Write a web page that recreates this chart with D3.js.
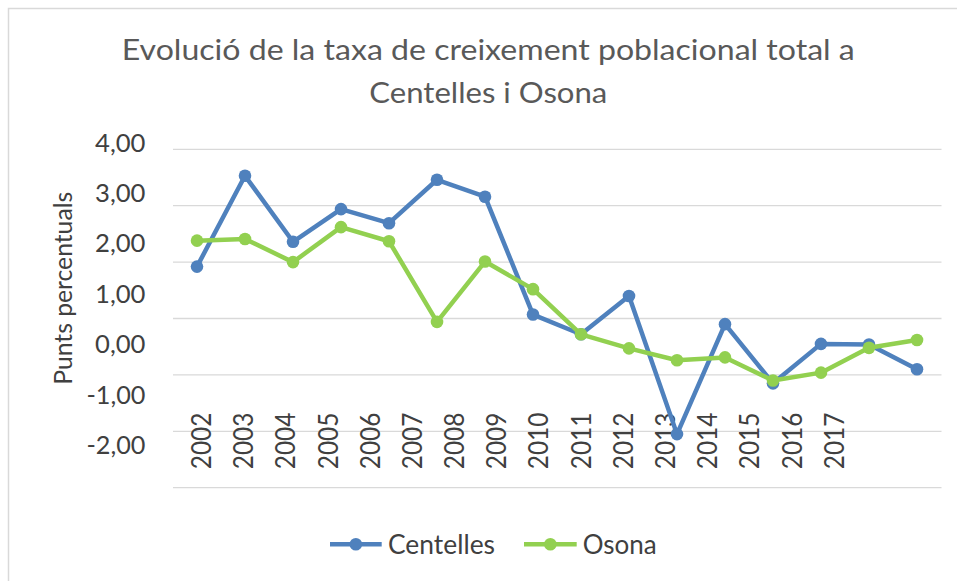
<!DOCTYPE html>
<html><head><meta charset="utf-8">
<script src="https://cdn.jsdelivr.net/npm/d3@7"></script>
<style>
html,body{margin:0;padding:0;background:#fff;}
svg{display:block;}
text{font-family:Lato,"Open Sans",sans-serif;}
</style></head>
<body>
<svg id="chart" width="957" height="581"></svg>
<script>
const years = ["2002","2003","2004","2005","2006","2007","2008","2009","2010","2011","2012","2013","2014","2015","2016","2017"];
const centelles = [1.92, 3.53, 2.36, 2.94, 2.69, 3.46, 3.16, 1.07, 0.72, 1.40, -1.05, 0.90, -0.15, 0.55, 0.54, 0.10];
const osona = [2.38, 2.41, 2.00, 2.62, 2.37, 0.94, 2.01, 1.52, 0.72, 0.47, 0.26, 0.31, -0.10, 0.04, 0.48, 0.62];
const yTicks = [4, 3, 2, 1, 0, -1, -2];
const seriesNames = ["Centelles", "Osona"];
const titleLines = ["Evolució de la taxa de creixement poblacional total a", "Centelles i Osona"];
const yTitle = "Punts percentuals";

const colors = {Centelles: "#4F81BD", Osona: "#92D050"};
const svg = d3.select("#chart");

// chart frame
svg.append("rect").attr("x", 8.5).attr("y", 8.5).attr("width", 1000).attr("height", 1000)
  .attr("fill", "#fff").attr("stroke", "#D9D9D9").attr("stroke-width", 1.5);

const x = d3.scalePoint().domain(years).range([173, 941]).padding(0.5);
const y = d3.scaleLinear().domain([-2, 4]).range([487.7, 149.3]);
// tick label placement scales (labels are offset from the grid in the original)
const xLab = d3.scalePoint().domain(years).range([201.7, 834.3]);
const yLab = d3.scaleLinear().domain([-2, 4]).range([445, 142.5]);
const locale = d3.formatLocale({decimal: ",", thousands: ".", grouping: [3], currency: ["", "€"], minus: "-"});
const fmt = locale.format(".2f");

// gridlines
svg.append("g").selectAll("line").data(yTicks).join("line")
  .attr("x1", 173).attr("x2", 941.5)
  .attr("y1", d => y(d)).attr("y2", d => y(d))
  .attr("stroke", "#D9D9D9").attr("stroke-width", 1.3);

// y tick labels
svg.append("g").selectAll("text").data(yTicks).join("text")
  .attr("x", 145.5).attr("y", d => yLab(d)).attr("dy", "0.36em")
  .attr("text-anchor", "end").attr("fill", "#404040").style("font-size", "25px")
  .attr("textLength", d => d < 0 ? 59 : 50.5).attr("lengthAdjust", "spacingAndGlyphs")
  .text(d => fmt(d));

// x tick labels (rotated)
svg.append("g").selectAll("text").data(years).join("text")
  .attr("transform", d => `translate(${xLab(d)},412.7) rotate(-90)`)
  .attr("dy", "0.36em").attr("text-anchor", "end")
  .attr("fill", "#404040").style("font-size", "26px")
  .attr("textLength", 56.5).attr("lengthAdjust", "spacingAndGlyphs")
  .text(d => d);

// y axis title
svg.append("text").attr("transform", "translate(62.5,288.3) rotate(-90)")
  .attr("dy", "0.36em").attr("text-anchor", "middle")
  .attr("fill", "#404040").style("font-size", "25px")
  .attr("textLength", 193).attr("lengthAdjust", "spacingAndGlyphs")
  .text(yTitle);

// title
const tWidths = [733, 238];
svg.append("g").selectAll("text").data(titleLines).join("text")
  .attr("x", 488.3).attr("y", (d, i) => 60 + i * 42.5)
  .attr("text-anchor", "middle").attr("fill", "#595959").style("font-size", "28px")
  .attr("textLength", (d, i) => tWidths[i]).attr("lengthAdjust", "spacingAndGlyphs")
  .text(d => d);

// series
const series = [{name: "Centelles", values: centelles}, {name: "Osona", values: osona}];
const line = d3.line().x((d, i) => x(years[i])).y(d => y(d));
series.forEach(s => {
  const g = svg.append("g");
  g.append("path").datum(s.values).attr("d", line)
    .attr("fill", "none").attr("stroke", colors[s.name]).attr("stroke-width", 4.5)
    .attr("stroke-linejoin", "round");
  g.selectAll("circle").data(s.values).join("circle")
    .attr("cx", (d, i) => x(years[i])).attr("cy", d => y(d)).attr("r", 6.3)
    .attr("fill", colors[s.name]);
});

// legend
const legend = [
  {name: "Centelles", x1: 330, x2: 381.7, tx: 388, tw: 107},
  {name: "Osona", x1: 524, x2: 576.7, tx: 582.7, tw: 74}
];
const lg = svg.append("g");
legend.forEach(l => {
  lg.append("line").attr("x1", l.x1).attr("x2", l.x2).attr("y1", 544.3).attr("y2", 544.3)
    .attr("stroke", colors[l.name]).attr("stroke-width", 4.5);
  lg.append("circle").attr("cx", (l.x1 + l.x2) / 2).attr("cy", 544.3).attr("r", 6.3).attr("fill", colors[l.name]);
  lg.append("text").attr("x", l.tx).attr("y", 544.5).attr("dy", "0.36em")
    .attr("fill", "#404040").style("font-size", "26px")
    .attr("textLength", l.tw).attr("lengthAdjust", "spacingAndGlyphs")
    .text(l.name);
});
</script>
</body></html>
